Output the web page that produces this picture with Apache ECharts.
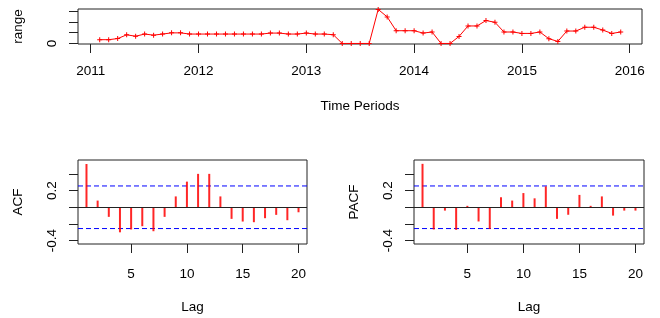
<!DOCTYPE html>
<html>
<head>
<meta charset="utf-8">
<script src="https://cdn.jsdelivr.net/npm/echarts@6/dist/echarts.min.js"></script>
<style>
html,body{margin:0;padding:0;background:#fff;}
#c{width:660px;height:318px;}
</style>
</head>
<body>
<div id="c"></div>
<script>
// ---- data ----
const startYear = 2011;
const startMonth = 2; // February
const rangeValues = [
  0.35,0.35,0.45,0.80,0.67,0.87,0.77,0.87,0.98,0.98,0.87,            // 2011 Feb-Dec
  0.87,0.87,0.87,0.87,0.87,0.87,0.87,0.87,0.96,0.96,0.87,0.87,       // 2012
  0.96,0.87,0.87,0.81,0,0,0,0,3.15,2.46,1.18,1.18,                   // 2013
  1.18,0.96,1.06,0,0,0.65,1.62,1.62,2.12,1.96,1.06,1.06,             // 2014
  0.93,0.93,1.06,0.44,0.19,1.15,1.15,1.50,1.50,1.24,0.93,1.06        // 2015
];
const yearTicks = [2011,2012,2013,2014,2015,2016];
const lags = [1,2,3,4,5,6,7,8,9,10,11,12,13,14,15,16,17,18,19,20];
const acfValues = [0.518,0.08,-0.115,-0.30,-0.266,-0.227,-0.287,-0.115,0.13,0.307,
                   0.40,0.40,0.13,-0.139,-0.171,-0.179,-0.131,-0.091,-0.155,-0.06];
const pacfValues = [0.52,-0.266,-0.04,-0.27,0.017,-0.17,-0.26,0.12,0.08,0.17,
                    0.107,0.25,-0.139,-0.09,0.148,0.017,0.13,-0.10,-0.04,-0.04];
const confBound = 0.255;
const lagTicks = [5,10,15,20];
const acfYTicks = [-0.4,-0.2,0,0.2,0.4];
const acfYLabels = [-0.4,0.2];

// ---- axis limits ----
const lagMin = 0.24, lagMax = 20.76;

// ---- build ----
const rangeData = rangeValues.map((v,i)=>[startYear + (startMonth-1+i)/12, v]);
const acfData = lags.map((l,i)=>[l, acfValues[i]]);
const pacfData = lags.map((l,i)=>[l, pacfValues[i]]);

const FONT = 'Liberation Sans, Arial, sans-serif';
const FS = 13.5;
const INK = '#222';
const tickStyle = {show:true, inside:false, length:9, lineStyle:{color:INK, width:1}};
const lblStyle = {color:'#000', fontFamily:FONT, fontSize:FS};
const nameStyle = {color:'#000', fontFamily:FONT, fontSize:FS};

function xAx(grid, min, max, ticks, name, margin, gap){
  return {type:'value', gridIndex:grid, min:min, max:max,
    axisLine:{show:false, onZero:false}, splitLine:{show:false},
    axisTick:Object.assign({customValues:ticks}, tickStyle),
    axisLabel:Object.assign({customValues:ticks, margin:margin, formatter:v=>String(v)}, lblStyle),
    name:name, nameLocation:'middle', nameGap:gap, nameTextStyle:nameStyle};
}
function yAx(grid, min, max, ticks, labels, name, fmt){
  return {type:'value', gridIndex:grid, min:min, max:max,
    axisLine:{show:false, onZero:false}, splitLine:{show:false},
    axisTick:Object.assign({customValues:ticks}, tickStyle),
    axisLabel:Object.assign({customValues:labels, rotate:90, margin:19, formatter:fmt}, lblStyle),
    name:name, nameLocation:'middle', nameGap:53, nameTextStyle:nameStyle};
}
const fmt1 = v => (Math.abs(v)<1e-9 ? '0.0' : v.toFixed(1));

function zeroLine(){
  return {silent:true, symbol:'none', label:{show:false},
    lineStyle:{color:INK, type:'solid', width:1},
    data:[{yAxis:0}]};
}
function boundSeries(ax, level){
  return {type:'line', xAxisIndex:ax, yAxisIndex:ax, silent:true, symbol:'none',
    data:[[lagMin, level],[lagMax, level]],
    lineStyle:{color:'#0000ff', type:[5,3], width:1}, z:1};
}

const plusPath = 'path://M4,0h2v4h4v2h-4v4h-2v-4h-4v-2h4z';

const option = {
  animation:false,
  backgroundColor:'#fff',
  grid:[
    {left:78, top:9, width:564, height:35, show:true, borderColor:INK, borderWidth:1, backgroundColor:'transparent'},
    {left:78, top:160, width:229, height:84, show:true, borderColor:INK, borderWidth:1, backgroundColor:'transparent'},
    {left:414, top:160, width:230, height:84, show:true, borderColor:INK, borderWidth:1, backgroundColor:'transparent'}
  ],
  xAxis:[
    xAx(0, 2010.882, 2016.114, yearTicks, 'Time Periods', 20, 55),
    xAx(1, lagMin, lagMax, lagTicks, 'Lag', 23, 56),
    xAx(2, lagMin, lagMax, lagTicks, 'Lag', 23, 56)
  ],
  yAxis:[
    yAx(0, -0.05, 3.19, [0,1,2,3], [0], 'range', v=>String(v)),
    yAx(1, -0.44, 0.566, acfYTicks, acfYLabels, 'ACF', fmt1),
    yAx(2, -0.44, 0.566, acfYTicks, acfYLabels, 'PACF', fmt1)
  ],
  series:[
    {type:'line', xAxisIndex:0, yAxisIndex:0, data:rangeData,
     lineStyle:{color:'#ff0000', width:1}, itemStyle:{color:'#ff0000'},
     symbol:plusPath, symbolSize:5, showSymbol:true},
    {type:'bar', xAxisIndex:1, yAxisIndex:1, data:acfData, barWidth:2, z:2,
     itemStyle:{color:'rgba(255,0,0,0.85)'}, markLine:zeroLine()},
    {type:'bar', xAxisIndex:2, yAxisIndex:2, data:pacfData, barWidth:2, z:2,
     itemStyle:{color:'rgba(255,0,0,0.85)'}, markLine:zeroLine()},
    boundSeries(1, confBound), boundSeries(1, -confBound),
    boundSeries(2, confBound), boundSeries(2, -confBound)
  ]
};
const chart = echarts.init(document.getElementById('c'), null, {renderer:'canvas'});
chart.setOption(option);
</script>
</body>
</html>
